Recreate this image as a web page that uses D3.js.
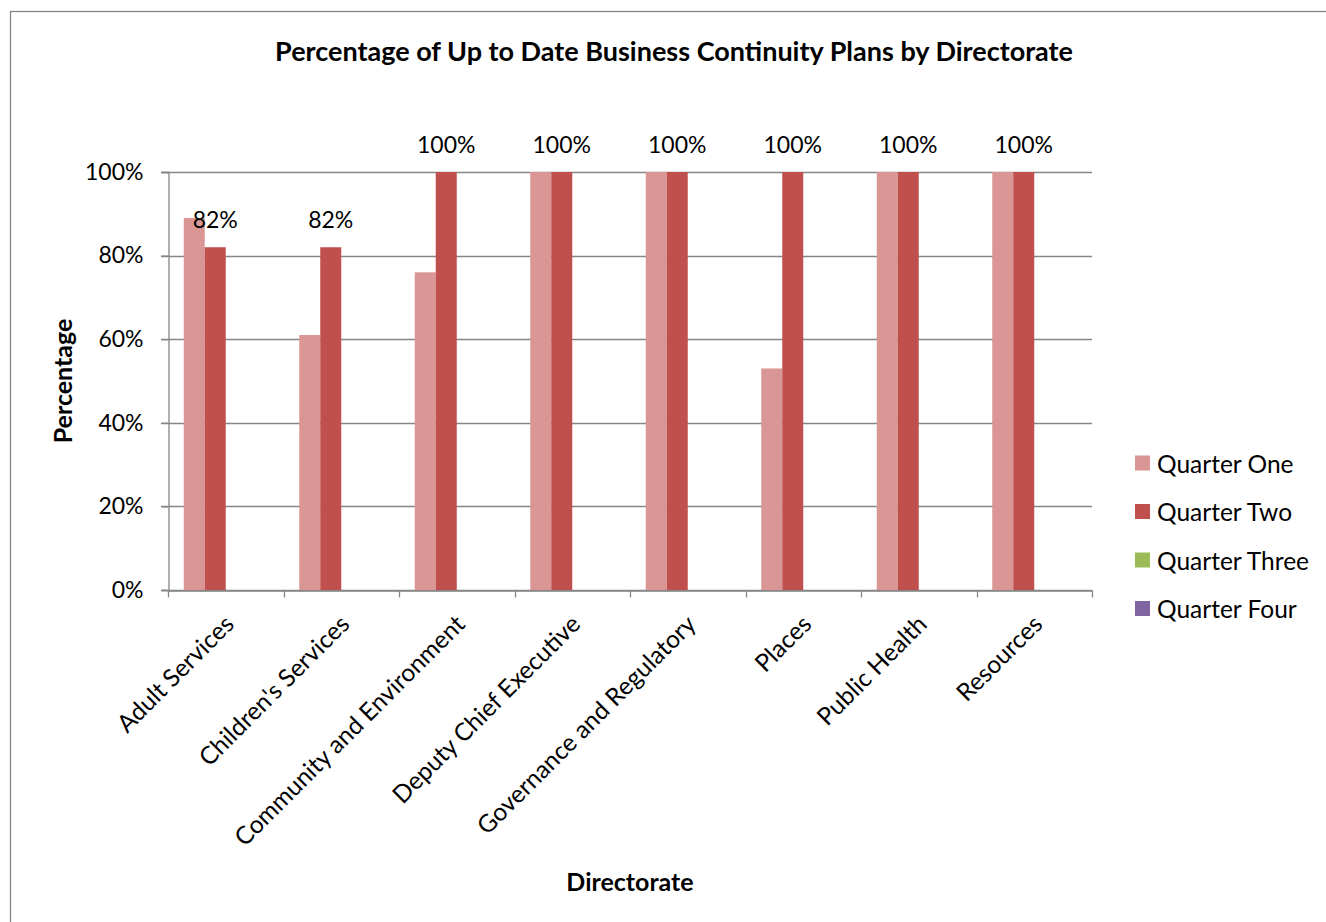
<!DOCTYPE html>
<html>
<head>
<meta charset="utf-8">
<script src="https://cdn.jsdelivr.net/npm/d3@7"></script>
<style>
  body { margin: 0; background: #fff; }
  svg text { font-family: "Lato", "Open Sans", sans-serif; fill: #000; }
</style>
</head>
<body>
<div id="chart"></div>
<script>
// Chart data
const directorates = ["Adult Services", "Children's Services", "Community and Environment",
    "Deputy Chief Executive", "Governance and Regulatory", "Places", "Public Health", "Resources"];
const seriesNames = ["Quarter One", "Quarter Two", "Quarter Three", "Quarter Four"];
const quarterOne = [89, 61, 76, 100, 100, 53, 100, 100];
const quarterTwo = [82, 82, 100, 100, 100, 100, 100, 100];
const quarterThree = [null, null, null, null, null, null, null, null];
const quarterFour = [null, null, null, null, null, null, null, null];
const yTicks = [0, 20, 40, 60, 80, 100];
const colors = ["#d99694", "#c0504d", "#9bbb59", "#8064a2"];

const seriesValues = [quarterOne, quarterTwo, quarterThree, quarterFour];

const width = 1326, height = 922;
const margin = { left: 168, right: 234, top: 172, bottom: 332 };

const svg = d3.select("#chart")
    .append("svg")
    .attr("width", width)
    .attr("height", height);

// Outer chart border (only top and left edges visible in frame)
svg.append("rect")
    .attr("x", 10.5).attr("y", 11.5)
    .attr("width", 1400).attr("height", 1000)
    .attr("fill", "none")
    .attr("stroke", "#868686")
    .attr("stroke-width", 1.3);

const x0 = d3.scaleBand()
    .domain(directorates)
    .range([margin.left, width - margin.right])
    .paddingInner(0)
    .paddingOuter(0);

// Excel gap width 150%: 4 bars + 1.5 bar of gap per category
const barW = x0.bandwidth() / 5.5;
const x1 = d3.scaleBand()
    .domain(seriesNames)
    .range([barW * 0.75, barW * 4.75]);

const y = d3.scaleLinear()
    .domain([0, 100])
    .range([height - margin.bottom, margin.top]);

// Gridlines
svg.append("g")
    .selectAll("line")
    .data(yTicks)
    .join("line")
    .attr("x1", margin.left - 7)
    .attr("x2", width - margin.right)
    .attr("y1", d => Math.round(y(d)) + 0.5)
    .attr("y2", d => Math.round(y(d)) + 0.5)
    .attr("stroke", "#868686")
    .attr("stroke-width", 1.3);

// Bars
seriesNames.forEach((s, i) => {
    svg.append("g")
        .selectAll("rect")
        .data(directorates.map((d, j) => ({ d, v: seriesValues[i][j] })).filter(e => e.v != null))
        .join("rect")
        .attr("x", e => x0(e.d) + x1(s))
        .attr("y", e => y(e.v))
        .attr("width", x1.bandwidth())
        .attr("height", e => y(0) - y(e.v))
        .attr("fill", colors[i]);
});

// Data labels on Quarter Two
svg.append("g")
    .selectAll("text")
    .data(directorates.map((d, j) => ({ d, v: quarterTwo[j] })))
    .join("text")
    .attr("x", e => x0(e.d) + x1("Quarter Two") + x1.bandwidth() / 2)
    .attr("y", e => y(e.v) - 28)
    .attr("text-anchor", "middle")
    .attr("dominant-baseline", "central")
    .attr("font-size", 23)
    .text(e => e.v + "%");

// Y axis
const yAxis = svg.append("g")
    .attr("transform", `translate(${margin.left + 0.5},0)`)
    .call(d3.axisLeft(y).tickValues(yTicks).tickFormat(d => d + "%").tickSize(7).tickPadding(18));
yAxis.select(".domain").attr("stroke", "#868686").attr("stroke-width", 1.3);
yAxis.selectAll(".tick line").attr("stroke", "#868686").attr("stroke-width", 1.3);
yAxis.selectAll(".tick text").attr("font-size", 23).attr("font-family", "Lato");

// X axis
const xAxis = svg.append("g")
    .attr("transform", `translate(0,${height - margin.bottom + 0.5})`)
    .call(d3.axisBottom(x0).tickSize(0).tickFormat(""));
xAxis.select(".domain").attr("stroke", "#868686").attr("stroke-width", 1.3);
xAxis.append("g")
    .selectAll("line")
    .data(d3.range(directorates.length + 1))
    .join("line")
    .attr("x1", i => Math.round(margin.left + i * x0.bandwidth()) + 0.5)
    .attr("x2", i => Math.round(margin.left + i * x0.bandwidth()) + 0.5)
    .attr("y1", 0).attr("y2", 7)
    .attr("stroke", "#868686")
    .attr("stroke-width", 1.3);

svg.append("g")
    .selectAll("text")
    .data(directorates)
    .join("text")
    .attr("transform", d => `translate(${x0(d) + x0.bandwidth() / 2 + 3},${height - margin.bottom + 29}) rotate(-45)`)
    .attr("text-anchor", "end")
    .attr("dominant-baseline", "central")
    .attr("font-size", 24.5)
    .text(d => d);

// Title
svg.append("text")
    .attr("x", 674)
    .attr("y", 50)
    .attr("text-anchor", "middle")
    .attr("dominant-baseline", "central")
    .attr("font-size", 27)
    .attr("font-weight", "bold")
    .text("Percentage of Up to Date Business Continuity Plans by Directorate");

// Axis titles
svg.append("text")
    .attr("transform", "translate(62,381) rotate(-90)")
    .attr("text-anchor", "middle")
    .attr("dominant-baseline", "central")
    .attr("font-size", 25)
    .attr("font-weight", "bold")
    .text("Percentage");

svg.append("text")
    .attr("x", 630)
    .attr("y", 881)
    .attr("text-anchor", "middle")
    .attr("dominant-baseline", "central")
    .attr("font-size", 25)
    .attr("font-weight", "bold")
    .text("Directorate");

// Legend
const legend = svg.append("g")
    .selectAll("g")
    .data(seriesNames)
    .join("g")
    .attr("transform", (d, i) => `translate(1135,${463 + i * 48.5})`);
legend.append("rect")
    .attr("x", 0).attr("y", -7.5)
    .attr("width", 15).attr("height", 15)
    .attr("fill", (d, i) => colors[i]);
legend.append("text")
    .attr("x", 22)
    .attr("y", 0)
    .attr("dominant-baseline", "central")
    .attr("font-size", 24.5)
    .text(d => d);
</script>
</body>
</html>
